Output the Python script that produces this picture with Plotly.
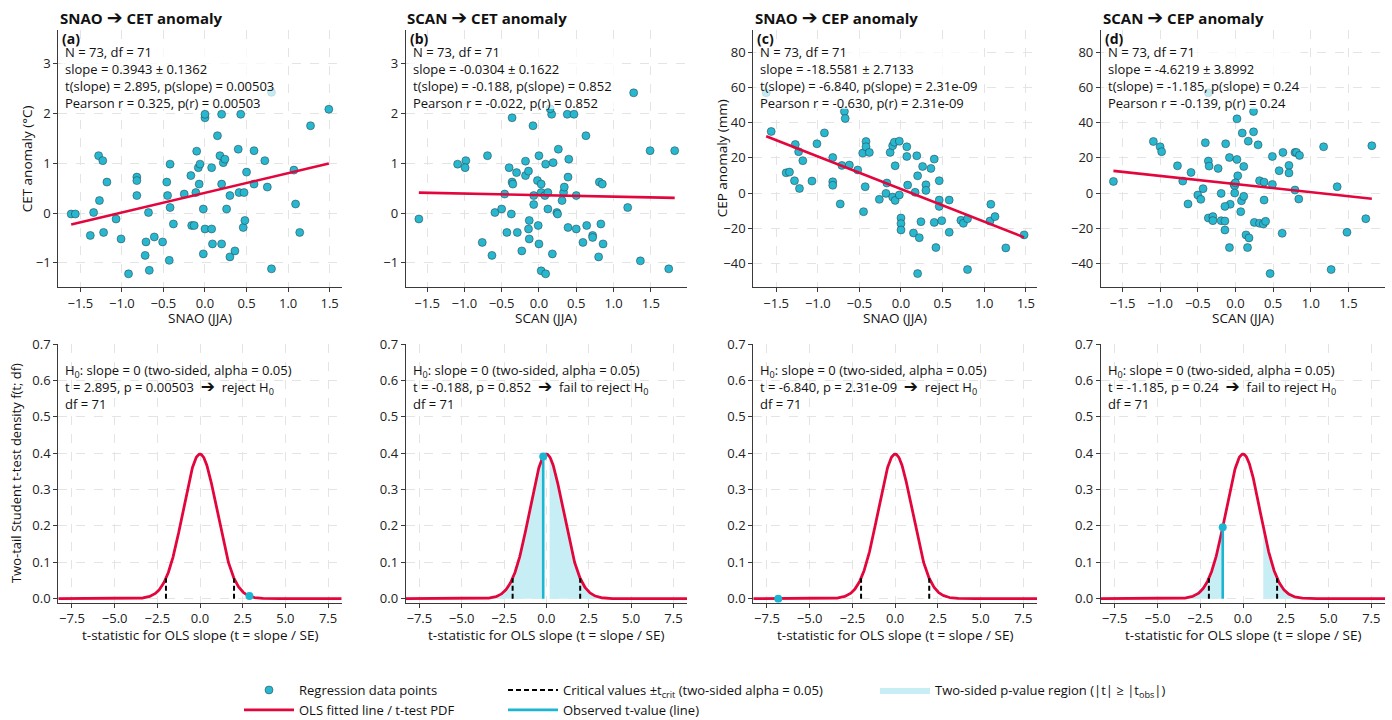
import math
import numpy as np
import plotly.graph_objects as go

W, H = 1392, 720

# ---------------- data ----------------
a_snao = [-1.61, -1.56, -1.38, -1.34, -1.28, -1.23, -1.27, -1.22, -1.18, -1.07,
          -1.01, -0.92, -0.82, -0.82, -0.82, -0.71, -0.72, -0.68, -0.67, -0.61,
          -0.51, -0.46, -0.45, -0.42, -0.42, -0.43, -0.38, -0.25, -0.17, -0.16,
          -0.13, -0.11, -0.10, -0.08, -0.06, -0.07, -0.02, -0.02, 0.00, 0.00,
          0.00, 0.08, 0.08, 0.09, 0.15, 0.18, 0.20, 0.20, 0.20, 0.22,
          0.24, 0.26, 0.30, 0.30, 0.36, 0.40, 0.41, 0.43, 0.47, 0.46,
          0.48, 0.50, 0.59, 0.59, 0.72, 0.75, 0.80, 1.07, 1.09, 1.14,
          1.27, 1.49, 0.80]
a_cet = [-0.02, -0.02, -0.45, 0.01, 1.15, 1.05, 0.25, -0.39, 0.62, -0.12,
         -0.52, -1.22, 0.72, 0.65, 0.35, -0.58, -0.85, 0.01, -1.15, -0.48,
         -0.58, 0.62, 0.35, 0.98, 0.11, -0.95, -0.22, 0.38, 0.75, -0.25,
         -0.25, 0.41, 1.24, 0.91, 0.98, 0.58, 0.08, -0.82, 1.91, 1.98,
         -0.32, 0.91, -0.32, -0.62, 1.55, 1.15, 1.98, 0.58, -0.62, 1.01,
         1.08, 0.08, 0.35, -0.88, -0.76, 1.28, 0.41, 1.98, 0.41, -0.29,
         -0.15, 0.82, 1.25, 0.58, 1.05, 0.52, -1.12, 0.86, 0.18, -0.39,
         1.75, 2.08, 2.42]

b_scan = [-1.61, -1.09, -0.98, -0.99, -0.76, -0.69, -0.63, -0.59, -0.50, -0.46,
          -0.43, -0.40, -0.37, -0.36, -0.36, -0.35, -0.30, -0.29, -0.23, -0.18,
          -0.18, -0.14, -0.13, -0.14, -0.13, -0.08, -0.07, -0.07, -0.01, -0.02,
          0.00, 0.00, 0.03, 0.03, 0.03, 0.08, 0.09, 0.09, 0.12, 0.12,
          0.17, 0.18, 0.19, 0.15, 0.24, 0.25, 0.26, 0.31, 0.33, 0.34,
          0.38, 0.39, 0.39, 0.40, 0.47, 0.50, 0.50, 0.59, 0.63, 0.64,
          0.72, 0.72, 0.80, 0.81, 0.83, 0.85, 0.86, 1.19, 1.36, 1.49,
          1.74, 1.82, 1.27]
b_cet = [-0.12, 0.98, 1.05, 0.91, -0.59, 1.15, -0.85, 0.01, 0.08, 0.38,
         -0.39, 0.91, -0.02, 1.91, 0.62, 0.58, 0.81, -0.39, -0.76, 0.75,
         1.04, 0.84, -0.15, -0.32, -0.52, 1.75, 0.35, 0.17, -0.25, 0.65,
         1.15, -0.62, 0.58, 0.41, -1.16, 0.35, 0.98, -1.22, 0.41, 0.08,
         1.98, -0.82, 1.01, 2.09, 0.01, -0.02, 1.28, 0.25, 0.41, 0.52,
         1.98, -0.29, 0.72, 1.08, 1.98, 0.35, -0.32, -0.59, 1.55, -0.25,
         -0.45, -0.49, -0.88, 0.62, -0.22, 0.58, -0.62, 0.11, -0.96, 1.25,
         -1.12, 1.25, 2.41]

c_snao = [-1.56, -1.38, -1.34, -1.28, -1.27, -1.23, -1.22, -1.18, -1.07, -1.01,
          -0.92, -0.82, -0.82, -0.82, -0.73, -0.71, -0.68, -0.67, -0.62, -0.52,
          -0.46, -0.45, -0.43, -0.42, -0.42, -0.38, -0.26, -0.17, -0.18, -0.13,
          -0.10, -0.10, -0.08, -0.07, -0.07, -0.02, -0.02, 0.00, 0.00, 0.00,
          0.07, 0.07, 0.08, 0.15, 0.17, 0.19, 0.20, 0.22, 0.20, 0.24,
          0.26, 0.30, 0.30, 0.36, 0.40, 0.40, 0.42, 0.46, 0.46, 0.46,
          0.49, 0.58, 0.58, 0.72, 0.75, 0.80, 0.80, 1.07, 1.08, 1.13,
          1.26, 1.48, -1.62]
c_cep = [35.0, 11.5, 11.9, 7.0, 27.6, 23.5, 2.6, 18.4, 6.8, 28.0,
         34.2, 20.2, 6.4, 4.4, -6.2, 15.7, 46.4, 42.4, 15.9, 13.1,
         22.7, -10.6, 3.6, 29.3, 26.3, 23.1, -3.6, 5.7, -0.2, 23.1,
         -2.3, 26.9, 28.9, 15.5, -4.2, -1.1, 29.5, -14.2, -17.4, -21.0,
         26.3, 20.8, 4.5, -22.7, 0.4, 21.2, 9.8, -25.4, -45.8, -16.3,
         15.1, 4.7, 1.5, 14.0, 19.3, -16.7, -31.0, 7.0, -4.0, -7.6,
         -15.7, -4.0, -22.3, -15.5, -17.2, -14.6, -43.5, -15.9, -6.4, -13.4,
         -31.2, -23.8, 57.0]

d_scan = [0.02, 0.24, 0.09, 0.24, 0.17, 0.30, -0.40, -0.13, -1.09, -1.00,
          -0.98, 1.17, 1.81, 0.63, 0.79, 0.81, 0.85, -0.08, 0.02, 0.49,
          -0.36, -0.35, -0.77, 0.71, 0.11, -0.23, -0.59, 0.58, 0.71, 0.03,
          -0.70, -1.62, 0.32, 0.38, 0.49, -0.02, -0.01, -0.43, 1.35, -0.19,
          -0.01, -0.50, -0.46, 0.79, 0.84, 0.08, 0.11, 0.38, -0.63, -0.07,
          -0.14, 0.07, -0.36, -0.30, -0.30, -0.19, -0.14, -0.14, 0.25, 0.32,
          0.37, 0.40, 1.73, 0.62, 0.14, 0.18, 1.48, -0.08, 0.16, 0.46,
          1.27, -0.36, 0.00]
d_cep = [42.2, 46.4, 34.1, 34.8, 29.5, 27.4, 28.6, 28.0, 29.3, 26.3,
         23.5, 26.3, 26.9, 23.1, 23.1, 23.1, 21.4, 20.2, 19.1, 20.8,
         18.2, 15.3, 15.5, 15.7, 15.1, 14.0, 11.7, 12.7, 11.4, 9.8,
         6.8, 6.6, 7.0, 6.2, 4.9, 4.9, 4.2, 2.5, 3.6, -0.2,
         0.0, -1.1, -3.6, 1.7, -3.4, -4.4, -1.9, -4.0, -6.2, -6.4,
         -7.6, -10.6, -14.2, -13.4, -15.7, -15.7, -15.9, -21.0, -16.7, -17.2,
         -17.6, -16.1, -14.6, -22.9, -23.8, -25.5, -22.3, -31.0, -31.0, -45.8,
         -43.5, 57.0, 5.8]

title_from = ["SNAO", "SCAN", "SNAO", "SCAN"]
title_to = ["CET anomaly", "CET anomaly", "CEP anomaly", "CEP anomaly"]
panel_tags = ["(a)", "(b)", "(c)", "(d)"]
x_titles = ["SNAO (JJA)", "SCAN (JJA)", "SNAO (JJA)", "SCAN (JJA)"]
y_titles = ["CET anomaly (\u00b0C)", "", "CEP anomaly (mm)", ""]
slopes = [0.3943, -0.0304, -18.5581, -4.6219]
slope_se = ["0.3943 \u00b1 0.1362", "-0.0304 \u00b1 0.1622",
            "-18.5581 \u00b1 2.7133", "-4.6219 \u00b1 3.8992"]
t_obs = [2.895, -0.188, -6.840, -1.185]
t_txt = ["2.895", "-0.188", "-6.840", "-1.185"]
p_txt = ["0.00503", "0.852", "2.31e-09", "0.24"]
r_txt = ["0.325", "-0.022", "-0.630", "-0.139"]
decisions = ["reject H<sub>0</sub>", "fail to reject H<sub>0</sub>",
             "reject H<sub>0</sub>", "fail to reject H<sub>0</sub>"]
N_OBS = 73
DF = 71
ALPHA = 0.05
T_CRIT = 1.994

xs_data = [a_snao, b_scan, c_snao, d_scan]
ys_data = [a_cet, b_cet, c_cep, d_cep]

# ---------------- styling ----------------
FONT = "'Open Sans', 'Noto Sans', 'DejaVu Sans', sans-serif"
C_PT = "#27b7cf"
C_RED = "#e3063d"
C_OBS = "#1cb6d3"
C_FILL = "#c8eef5"
C_AX = "#3a3a3a"
ARROW = "\u2794"

col_left = [58.3, 405.8, 753.3, 1101.0]
col_right = [341.7, 687.0, 1037.0, 1385.0]
top_row = (30.0, 287.3)
bot_row = (344.0, 602.7)
box_w = [228, 212, 230, 200]

x_ranges_top = [[-1.765, 1.645], [-1.785, 1.985], [-1.775, 1.635], [-1.785, 1.985]]
y_ranges_top = [[-1.49, 3.67], [-1.49, 3.67], [-53.6, 92.7], [-53.6, 92.7]]
T_RANGE = [-8.3, 8.3]
PDF_RANGE = [-0.011, 0.70]


def px(xp):
    return xp / W


def py(yp):
    return 1 - yp / H


def tpdf(t):
    t = np.asarray(t, dtype=float)
    c = math.exp(math.lgamma((DF + 1) / 2) - math.lgamma(DF / 2)) / math.sqrt(DF * math.pi)
    return c * (1 + t * t / DF) ** (-(DF + 1) / 2)


fig = go.Figure()
layout = {}

axis_common = dict(showline=True, linecolor=C_AX, linewidth=1.2, ticks="outside",
                   ticklen=4, tickwidth=1, tickcolor=C_AX, showgrid=True,
                   gridcolor="#e4e4e4", griddash="dash", gridwidth=0.8,
                   zeroline=False, automargin=False,
                   tickfont=dict(size=13, color="#222", family=FONT),
                   mirror=False)

annotations = []
shapes = []


def ann(text, xp, yp, size=13, bold=False, xanchor="left", angle=0, color="#111"):
    annotations.append(dict(
        text=(f"<b>{text}</b>" if bold else text), x=px(xp), y=py(yp),
        xref="paper", yref="paper", xanchor=xanchor, yanchor="middle",
        showarrow=False, textangle=angle, borderpad=0, align="left",
        font=dict(size=size, color=color, family=FONT)))


for i in range(4):
    # ---------- top scatter ----------
    xa = f"x{i + 1}" if i else "x"
    ya = f"y{i + 1}" if i else "y"
    xn = f"xaxis{i + 1}" if i else "xaxis"
    yn = f"yaxis{i + 1}" if i else "yaxis"
    x = np.array(xs_data[i])
    y = np.array(ys_data[i])
    fig.add_trace(go.Scatter(
        x=x, y=y, mode="markers", xaxis=xa, yaxis=ya,
        marker=dict(size=8, color=C_PT, line=dict(color="rgba(40,60,70,0.85)", width=0.6)),
        name="Regression data points", showlegend=(i == 0), legend="legend"))
    intercept = y.mean() - slopes[i] * x.mean()
    lx = np.array([x.min(), x.max()])
    fig.add_trace(go.Scatter(
        x=lx, y=intercept + slopes[i] * lx, mode="lines", xaxis=xa, yaxis=ya,
        line=dict(color=C_RED, width=2.6), name="OLS fitted line / t-test PDF",
        showlegend=(i == 0), legend="legend"))

    layout[xn] = dict(axis_common, domain=[px(col_left[i]), px(col_right[i])],
                      range=x_ranges_top[i], anchor=ya,
                      tickvals=[-1.5, -1.0, -0.5, 0.0, 0.5, 1.0, 1.5], tickformat=".1f")
    if i < 2:
        yt = [-1, 0, 1, 2, 3]
    else:
        yt = [-40, -20, 0, 20, 40, 60, 80]
    layout[yn] = dict(axis_common, domain=[py(top_row[1]), py(top_row[0])],
                      range=y_ranges_top[i], anchor=xa, tickvals=yt)

    # ---------- bottom t-test ----------
    j = i + 4
    xb = f"x{j + 1}"
    yb = f"y{j + 1}"
    tgrid = np.linspace(T_RANGE[0], T_RANGE[1], 801)
    to = abs(t_obs[i])
    lx_ = np.linspace(T_RANGE[0], -to, 300)
    rx_ = np.linspace(to, T_RANGE[1], 300)
    fx = list(np.concatenate([[T_RANGE[0]], lx_, [-to]])) + [None] + \
        list(np.concatenate([[to], rx_, [T_RANGE[1]]]))
    fy = list(np.concatenate([[0], tpdf(lx_), [0]])) + [None] + \
        list(np.concatenate([[0], tpdf(rx_), [0]]))
    fig.add_trace(go.Scatter(
        x=fx, y=fy, mode="lines", fill="toself", fillcolor=C_FILL,
        line=dict(width=0, color=C_FILL), xaxis=xb, yaxis=yb,
        name="Two-sided p-value region (|t| \u2265 |t<sub>obs</sub>|)",
        showlegend=(i == 1), legend="legend3", hoverinfo="skip"))
    fig.add_trace(go.Scatter(
        x=tgrid, y=tpdf(tgrid), mode="lines", line=dict(color=C_RED, width=2.8),
        xaxis=xb, yaxis=yb, showlegend=False, name="t PDF"))
    tc = [-T_CRIT, -T_CRIT, None, T_CRIT, T_CRIT]
    pc = float(tpdf(T_CRIT))
    fig.add_trace(go.Scatter(
        x=tc, y=[0, pc, None, 0, pc], mode="lines",
        line=dict(color="black", width=2, dash="5px,3px"), xaxis=xb, yaxis=yb,
        name="Critical values \u00b1t<sub>crit</sub> (two-sided alpha = 0.05)",
        showlegend=(i == 0), legend="legend2"))
    po = float(tpdf(t_obs[i]))
    fig.add_trace(go.Scatter(
        x=[t_obs[i], t_obs[i]], y=[0, po], mode="lines",
        line=dict(color=C_OBS, width=2.6), xaxis=xb, yaxis=yb,
        name="Observed t-value (line)", showlegend=(i == 0), legend="legend2"))
    fig.add_trace(go.Scatter(
        x=[t_obs[i]], y=[po], mode="markers", marker=dict(size=8, color=C_OBS),
        xaxis=xb, yaxis=yb, showlegend=False, name="observed t"))

    layout[f"xaxis{j + 1}"] = dict(axis_common, domain=[px(col_left[i]), px(col_right[i])],
                                   range=T_RANGE, anchor=yb,
                                   tickvals=[-7.5, -5.0, -2.5, 0.0, 2.5, 5.0, 7.5],
                                   tickformat=".1f")
    layout[f"yaxis{j + 1}"] = dict(axis_common, domain=[py(bot_row[1]), py(bot_row[0])],
                                   range=PDF_RANGE, anchor=xb,
                                   tickvals=[0, 0.1, 0.2, 0.3, 0.4, 0.5, 0.6, 0.7],
                                   tickformat=".1f")

    L = col_left[i]
    cx = (col_left[i] + col_right[i]) / 2

    shapes.append(dict(type="rect", xref="paper", yref="paper",
                       x0=px(L + 3), x1=px(L + box_w[i]), y0=py(109), y1=py(45),
                       fillcolor="rgba(255,255,255,0.72)", line=dict(width=0),
                       layer="above"))

    ann(f"{title_from[i]} <span style=\"font-size:19px\">{ARROW}</span> {title_to[i]}",
        L + 0.5, 17, size=15, bold=True)
    ann(panel_tags[i], L + 3, 38.5, size=14, bold=True)
    stats = "<br>".join([
        f"N = {N_OBS}, df = {DF}",
        f"slope = {slope_se[i]}",
        f"t(slope) = {t_txt[i]}, p(slope) = {p_txt[i]}",
        f"Pearson r = {r_txt[i]}, p(r) = {p_txt[i]}",
    ])
    ann(stats, L + 6, 77.5)
    ann(x_titles[i], cx, 318, size=13.5, xanchor="center")
    if y_titles[i]:
        ann(y_titles[i], L - 31.6, (top_row[0] + top_row[1]) / 2, size=13.5,
            xanchor="center", angle=-90)

    test_txt = "<br>".join([
        "H<sub>0</sub>: slope = 0 (two-sided, alpha = 0.05)",
        f"t = {t_txt[i]}, p = {p_txt[i]}\u00a0\u00a0"
        f"<span style=\"font-size:17px\"><b>{ARROW}</b></span>\u00a0\u00a0{decisions[i]}",
        f"df = {DF}",
    ])
    ann(test_txt, L + 6, 387)
    ann("t-statistic for OLS slope (t = slope / SE)", cx, 635, size=13.5, xanchor="center")
    if i == 0:
        ann("Two-tail Student t-test density f(t; df)", 16.7, (bot_row[0] + bot_row[1]) / 2,
            size=13, xanchor="center", angle=-90)

leg_common = dict(orientation="v", xanchor="left", yanchor="top", bgcolor="rgba(0,0,0,0)",
                  font=dict(size=13, color="#111", family=FONT), tracegroupgap=0,
                  itemwidth=50)
layout["legend"] = dict(leg_common, x=px(239), y=py(675))
layout["legend2"] = dict(leg_common, x=px(503), y=py(675))
layout["legend3"] = dict(leg_common, x=px(875), y=py(675))

fig.update_layout(**layout)
fig.update_layout(
    width=W, height=H, margin=dict(l=0, r=0, t=0, b=0, autoexpand=False),
    paper_bgcolor="white", plot_bgcolor="white",
    font=dict(family=FONT, size=13, color="#111"),
    annotations=annotations, shapes=shapes, hovermode=False)

fig.write_html("out.html",
               config={"displayModeBar": False, "staticPlot": False},
               post_script="document.body.style.margin='0';"
                           "document.body.style.overflow='hidden';")
